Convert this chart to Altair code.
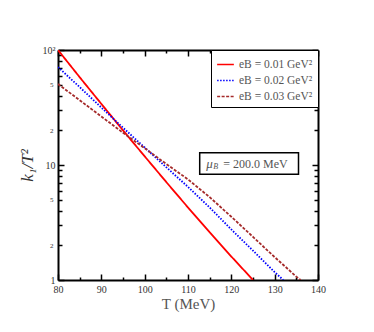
import altair as alt
import pandas as pd

# ---- data ----
series_names = ["eB = 0.01 GeV²", "eB = 0.02 GeV²", "eB = 0.03 GeV²"]
T_red = [80, 85, 90, 95, 100, 105, 110, 115, 120, 125]
k_red = [100, 58, 34, 20, 11.9, 7.1, 4.27, 2.6, 1.6, 1.0]
T_blue = [80, 85, 90, 95, 100, 105, 110, 115, 120, 125, 130, 132]
k_blue = [71, 47.6, 31.6, 21.1, 14.2, 9.55, 6.45, 4.27, 2.75, 1.8, 1.17, 1.0]
T_brown = [80, 85, 90, 95, 100, 105, 110, 115, 120, 125, 130, 135, 136]
k_brown = [50.6, 36.6, 26.4, 19.1, 14.0, 10.2, 7.5, 5.25, 3.55, 2.37, 1.58, 1.07, 1.0]
colors = ["#ff0000", "#0000ff", "#a52a2a"]
dashes = [[1, 0], [1.5, 1.5], [3, 1.5]]

x_ticks = list(range(80, 141, 5))
y_ticks = [1, 2, 3, 4, 5, 6, 7, 8, 9, 10, 20, 30, 40, 50, 60, 70, 80, 90, 100]

box_T = [112.7, 135.5]
box_k = [8.3, 12.8]
label_T = [114.2]
label_k = [10.3]

FONT = "Liberation Serif"

rows = []
for name, Ts, ks in zip(series_names, [T_red, T_blue, T_brown], [k_red, k_blue, k_brown]):
    for t, k in zip(Ts, ks):
        rows.append({"T": t, "k": k, "series": name})
df = pd.DataFrame(rows)

xscale = alt.Scale(domain=[80, 140], nice=False, zero=False)
yscale = alt.Scale(type="log", domain=[1, 100], nice=False)

xaxis = alt.Axis(
    values=x_ticks, title="T (MeV)", titleFont=FONT, titleFontSize=15,
    titleFontWeight="normal", titleColor="#555", titlePadding=2,
    labelFont=FONT, labelFontSize=10, labelColor="#333",
    labelExpr="datum.value % 10 === 0 ? datum.label : ''",
    tickSize=alt.ExprRef(expr="datum.value % 10 === 0 ? -6 : -3"),
    tickColor="black", tickWidth=1.5, domainColor="black", domainWidth=2,
    labelPadding=10, grid=False, labelFlush=False,
)
yaxis = alt.Axis(
    values=y_ticks, title="k₁/T²", titleFont=FONT, titleFontSize=17,
    titleFontStyle="italic", titleFontWeight="normal", titleColor="#333",
    titlePadding=6,
    labelFont=FONT, labelColor="#333",
    labelFontSize={"condition": {"test": "datum.value === 1 || datum.value === 10 || datum.value === 100", "value": 10}, "value": 7},
    labelExpr="datum.value === 100 ? '10²' : (datum.value === 1 || datum.value === 10) ? datum.value + '' : (datum.value === 2 || datum.value === 20) ? '2' : (datum.value === 5 || datum.value === 50) ? '5' : ''",
    tickSize=alt.ExprRef(expr="(datum.value === 1 || datum.value === 10 || datum.value === 100) ? -6 : -4"),
    tickColor="black", tickWidth=1.5, domainColor="black", domainWidth=2,
    labelPadding=9, grid=False, labelFlush=False,
)

legend_kw = dict(title=None, orient="top-right", offset=0,
                 strokeColor="black", fillColor="white",
                 padding=5, symbolType="stroke",
                 symbolSize=280, symbolStrokeWidth=1.5,
                 labelFont=FONT, labelFontSize=11.5,
                 labelColor="#555", rowPadding=1, labelLimit=200)

lines = alt.Chart(df).mark_line(clip=True, strokeWidth=1.8).encode(
    x=alt.X("T:Q", scale=xscale, axis=xaxis),
    y=alt.Y("k:Q", scale=yscale, axis=yaxis),
    color=alt.Color("series:N", scale=alt.Scale(domain=series_names, range=colors),
                    legend=alt.Legend(**legend_kw)),
    strokeDash=alt.StrokeDash("series:N", scale=alt.Scale(domain=series_names, range=dashes),
                              legend=alt.Legend(**legend_kw)),
    order=alt.Order("T:Q"),
)

# mirrored ticks on top and right
mirror_x = alt.Axis(values=x_ticks, orient="top", labels=False, title=None,
                    tickSize=alt.ExprRef(expr="datum.value % 10 === 0 ? -6 : -3"),
                    tickColor="black", tickWidth=1.5, domainColor="black", domainWidth=2, grid=False)
mirror_y = alt.Axis(values=y_ticks, orient="right", labels=False, title=None,
                    tickSize=alt.ExprRef(expr="(datum.value === 1 || datum.value === 10 || datum.value === 100) ? -6 : -4"),
                    tickColor="black", tickWidth=1.5, domainColor="black", domainWidth=2, grid=False)
mirror = alt.Chart(pd.DataFrame({"T": [80], "k": [1]})).mark_point(opacity=0).encode(
    x=alt.X("T:Q", scale=xscale, axis=mirror_x),
    y=alt.Y("k:Q", scale=yscale, axis=mirror_y),
)

box_df = pd.DataFrame({"T1": [box_T[0]], "T2": [box_T[1]], "k1": [box_k[0]], "k2": [box_k[1]]})
box = alt.Chart(box_df).mark_rect(fill="white", stroke="black", strokeWidth=1.5).encode(
    x=alt.X("T1:Q", scale=xscale, axis=None), x2="T2:Q",
    y=alt.Y("k1:Q", scale=yscale, axis=None), y2="k2:Q",
)
lab_df = pd.DataFrame({"T": label_T, "k": label_k})
enc = dict(x=alt.X("T:Q", scale=xscale, axis=None), y=alt.Y("k:Q", scale=yscale, axis=None))
mu = alt.Chart(lab_df).mark_text(text="μ", align="left", baseline="middle", font=FONT,
                                 fontSize=13, fontStyle="italic", color="#555").encode(**enc)
sub = alt.Chart(lab_df).mark_text(text="B", align="left", baseline="middle", font=FONT,
                                  fontSize=8, fontStyle="italic", color="#555", dx=7, dy=3).encode(**enc)
rest = alt.Chart(lab_df).mark_text(text="= 200.0 MeV", align="left", baseline="middle", font=FONT,
                                   fontSize=12, color="#555", dx=17).encode(**enc)

chart = alt.layer(lines, mirror, box, mu, sub, rest).resolve_axis(
    x="independent", y="independent"
).properties(
    width=260, height=230,
    padding={"left": 10, "top": 37, "right": 5, "bottom": 5},
).configure_view(stroke=None)

chart.save("out.html", embed_options={"renderer": "svg", "actions": False})
